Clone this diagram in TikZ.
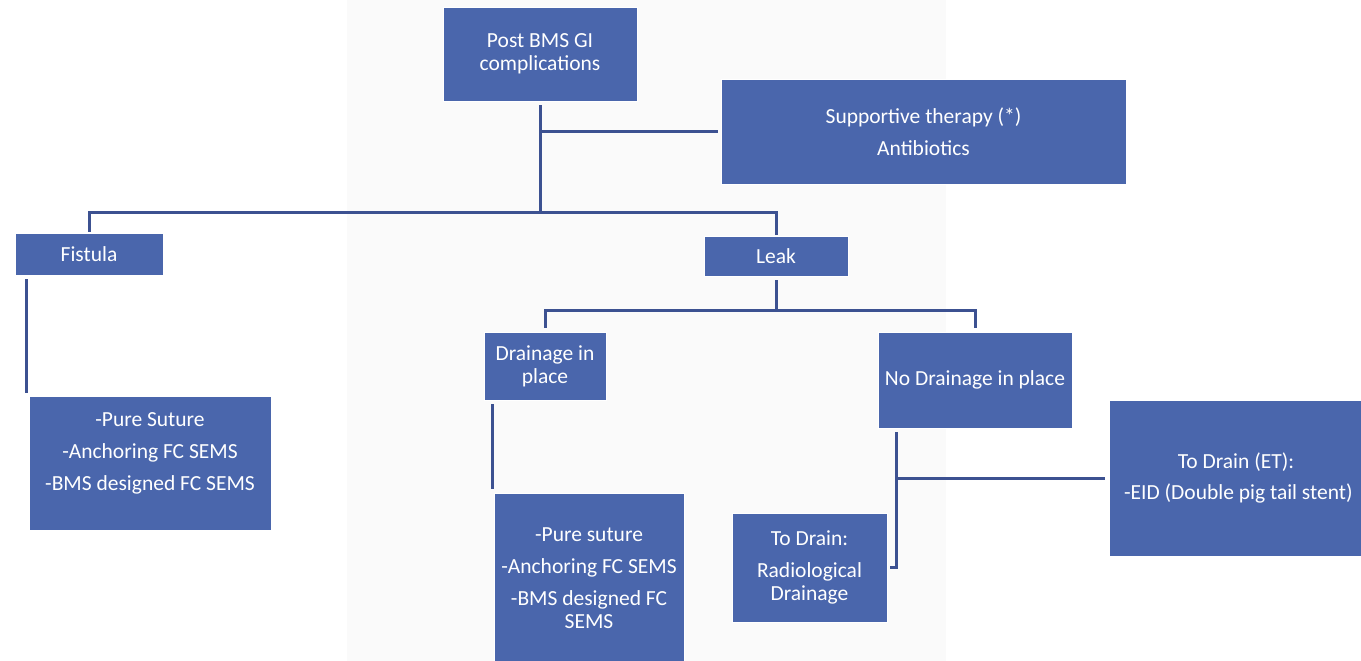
\documentclass[tikz,border=0pt]{standalone}
\usepackage{fontspec}
\setmainfont{Carlito}
\usetikzlibrary{calc}
\definecolor{boxblue}{HTML}{4A66AC}
\definecolor{lineblue}{HTML}{3C5191}
\definecolor{bggray}{HTML}{FAFAFA}
\tikzset{
  box/.style={rectangle, fill=boxblue, draw=white, line width=0.8pt, text=white, align=center,
    font=\fontsize{21.5}{23}\selectfont, inner sep=0pt},
  conn/.style={draw=lineblue, line width=3pt}
}
\begin{document}
\begin{tikzpicture}[x=1pt,y=-1pt]
\useasboundingbox (0,0) rectangle (1361,661);
\fill[white] (0,0) rectangle (1361,661);
\fill[bggray] (347,0) rectangle (946,661);
% boxes
\node[box, minimum width=194pt, minimum height=94pt] (post) at (540,54) {Post BMS GI\\complications};
\node[box, minimum width=405pt, minimum height=105pt] (sup) at (923.5,131.5) {Supportive therapy (*)\\[9pt]Antibiotics};
\node[box, minimum width=148pt, minimum height=42pt] (fist) at (89,254) {Fistula};
\node[box, minimum width=144pt, minimum height=40pt] (leak) at (776,256) {Leak};
\node[box, minimum width=122pt, minimum height=68pt] (dip) at (545,366) {Drainage in\\place};
\node[box, minimum width=194pt, minimum height=96pt] (nodr) at (975,380) {No Drainage in place};
\node[box, minimum width=242pt, minimum height=134pt] (ftreat) at (150,463) {-Pure Suture\\[9pt]-Anchoring FC SEMS\\[9pt]-BMS designed FC SEMS\\\mbox{}};
\node[box, minimum width=190pt, minimum height=170pt] (dtreat) at (589,578) {-Pure suture\\[9pt]-Anchoring FC SEMS\\[9pt]-BMS designed FC\\SEMS};
\node[box, minimum width=155pt, minimum height=109pt] (radio) at (809.5,567.5) {To Drain:\\[9pt]Radiological\\Drainage};
\node[box, minimum width=254pt, minimum height=156pt] (et) at (1236,478) {To Drain (ET):\\[8pt]\ -EID (Double pig tail stent)};
% junctions
\coordinate (j1) at (540,212);
\coordinate (j2) at (775,310);
% connectors
\draw[conn] ($(post.south)+(0,4)$) -- (j1);
\draw[conn] (sup.west -| post.south) -- ($(sup.west)+(-3,0)$);
\draw[conn] ($(fist.north)+(0,-1)$) -- (fist.north |- j1) -- (leak.north |- j1) -- ($(leak.north)+(0,-1)$);
\draw[conn] ($(fist.south west)+(12,4)$) -- ($(ftreat.north west)+(-2,-3)$);
\draw[conn] ($(leak.south)+(0,4)$) -- (leak.south |- j2);
\draw[conn] ($(dip.north)+(0,-4)$) -- (dip.north |- j2) -- (nodr.north |- j2) -- ($(nodr.north)+(0,-4)$);
\draw[conn] ($(dip.south west)+(9,4)$) -- ($(dtreat.north west)+(-1,-4)$);
\coordinate (v) at ($(nodr.south west)+(19,4)$);
\draw[conn] (v) |- ($(radio.east)+(3,0)$);
\draw[conn] (v |- et.west) -- ($(et.west)+(-4,0)$);
\end{tikzpicture}
\end{document}
